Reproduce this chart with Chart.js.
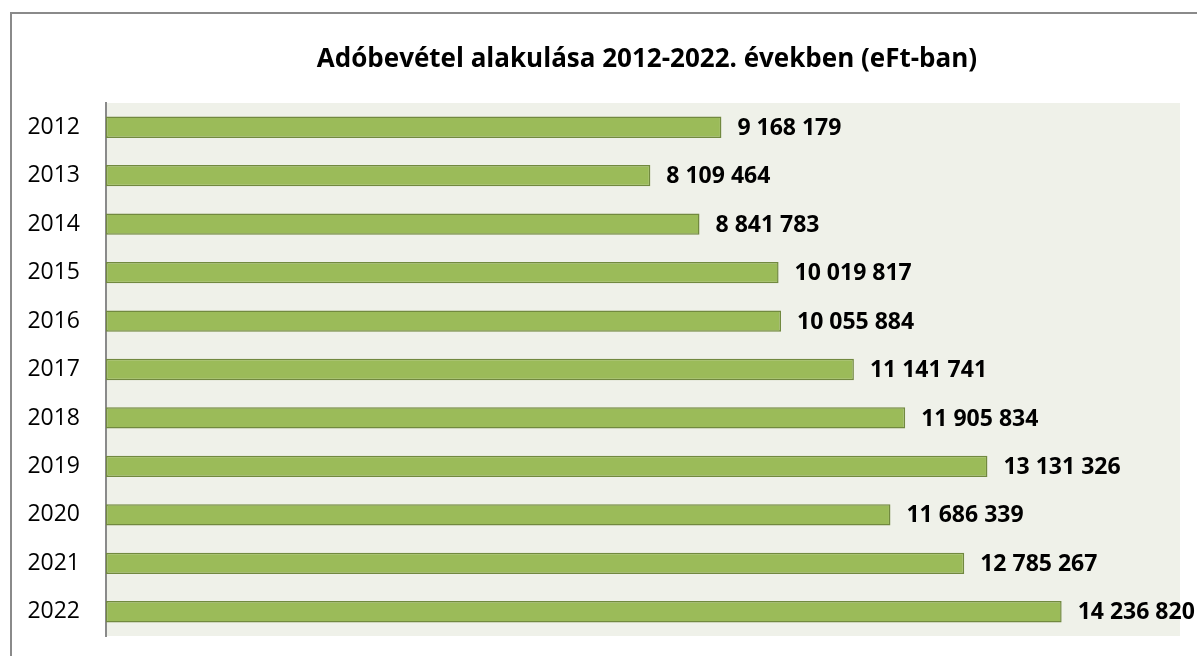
<!DOCTYPE html>
<html>
<head>
<meta charset="utf-8">
<script src="https://cdn.jsdelivr.net/npm/chart.js@4"></script>
<style>
  html, body { margin: 0; padding: 0; background: #fff; overflow: hidden; }
  #wrap { position: absolute; left: 0; top: 0; width: 1197px; height: 656px; }
  #frame { position: absolute; left: 10px; top: 12px; width: 1200px; height: 700px; border: 2px solid #8a8a8a; box-sizing: border-box; }
  canvas { position: absolute; left: 0; top: 0; }
</style>
</head>
<body>
<div id="wrap">
  <div id="frame"></div>
  <canvas id="c" width="1197" height="656"></canvas>
</div>
<script>
const chartTitle = 'Adóbevétel alakulása 2012-2022. években (eFt-ban)';
const years = ['2012','2013','2014','2015','2016','2017','2018','2019','2020','2021','2022'];
const revenue = [9168179, 8109464, 8841783, 10019817, 10055884, 11141741, 11905834, 13131326, 11686339, 12785267, 14236820];
const valueLabels = ['9 168 179','8 109 464','8 841 783','10 019 817','10 055 884','11 141 741','11 905 834','13 131 326','11 686 339','12 785 267','14 236 820'];

const FONT = '"Open Sans", "Liberation Sans", sans-serif';

const plotBg = {
  id: 'plotBg',
  beforeDraw(chart) {
    const {ctx, chartArea: a} = chart;
    ctx.save();
    ctx.fillStyle = '#EFF1E9';
    ctx.fillRect(a.left, a.top, a.right - a.left, a.bottom - a.top);
    ctx.restore();
  }
};

const titlePlugin = {
  id: 'titlePlugin',
  afterDraw(chart) {
    const {ctx, chartArea: a} = chart;
    ctx.save();
    ctx.font = 'bold 26px ' + FONT;
    ctx.fillStyle = '#000';
    ctx.textAlign = 'center';
    ctx.textBaseline = 'middle';
    ctx.fillText(chartTitle, (a.left + a.right) / 2 + 4, 60);
    ctx.restore();
  }
};

const labelPlugin = {
  id: 'labelPlugin',
  afterDatasetsDraw(chart) {
    const {ctx} = chart;
    const meta = chart.getDatasetMeta(0);
    ctx.save();
    ctx.font = 'bold 23px ' + FONT;
    ctx.fillStyle = '#000';
    ctx.textAlign = 'left';
    ctx.textBaseline = 'middle';
    meta.data.forEach((bar, i) => {
      ctx.fillText(valueLabels[i], bar.x + 16, bar.y + 1);
    });
    ctx.restore();
  }
};

new Chart(document.getElementById('c'), {
  type: 'bar',
  data: {
    labels: years,
    datasets: [{
      data: revenue,
      backgroundColor: '#9BBB59',
      borderColor: '#71893F',
      borderWidth: 1.5,
      borderSkipped: false,
      categoryPercentage: 1,
      barPercentage: 0.44
    }]
  },
  options: {
    indexAxis: 'y',
    responsive: false,
    animation: false,
    layout: { padding: { top: 103, bottom: 20, right: 17, left: 0 } },
    plugins: { legend: { display: false }, tooltip: { enabled: false }, title: { display: false } },
    scales: {
      x: { display: false, min: 0, max: 16000000 },
      y: {
        afterFit(scale) { scale.width = 106; scale.paddingTop = 0; scale.paddingBottom = 0; },
        grid: { display: false, drawTicks: false },
        border: { display: true, color: '#8a8a8a', width: 2 },
        ticks: { color: '#000', padding: 26, font: { family: FONT, size: 23 } }
      }
    }
  },
  plugins: [plotBg, titlePlugin, labelPlugin]
});
</script>
</body>
</html>
